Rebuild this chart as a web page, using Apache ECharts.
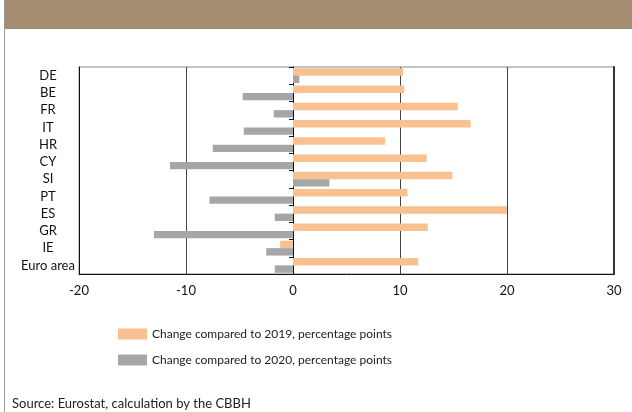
<!DOCTYPE html>
<html><head><meta charset="utf-8">
<script src="https://cdn.jsdelivr.net/npm/echarts@6/dist/echarts.min.js"></script>
<style>html,body{margin:0;padding:0;background:#fff}#c{width:632px;height:412px}</style>
</head><body><div id="c"></div>
<script>
const categories = ['DE','BE','FR','IT','HR','CY','SI','PT','ES','GR','IE','Euro area'];
const change2019 = [10.3, 10.4, 15.4, 16.6, 8.6, 12.5, 14.9, 10.7, 20.0, 12.6, -1.2, 11.7];
const change2020 = [0.6, -4.7, -1.8, -4.6, -7.5, -11.5, 3.4, -7.8, -1.7, -13.0, -2.5, -1.7];
const seriesNames = ['Change compared to 2019, percentage points','Change compared to 2020, percentage points'];
const xMin = -20, xMax = 30, xStep = 10;
const sourceText = 'Source: Eurostat, calculation by the CBBH';

const FONT = 'Lato';
const chart = echarts.init(document.getElementById('c'), null, {renderer:'canvas'});
chart.setOption({
  animation:false,
  textStyle:{fontFamily:FONT},
  graphic:[
    {type:'rect', shape:{x:4,y:0,width:628,height:29}, style:{fill:'#A48C70'}},
    {type:'line', shape:{x1:4.5,y1:0,x2:4.5,y2:412}, style:{stroke:'#9a9a9a',lineWidth:1}},
    {type:'text', left:12, top:397, style:{text:sourceText, font:'13px '+FONT, fill:'#222'}}
  ],
  legend:{
    orient:'vertical', left:113, top:323, itemWidth:29, itemHeight:11, itemGap:14,
    icon:'rect', textStyle:{fontFamily:FONT, fontSize:12, color:'#222'},
    data:seriesNames
  },
  grid:{left:79, right:18, top:67, bottom:138, show:true, borderColor:'#888', borderWidth:1},
  xAxis:{
    type:'value', min:xMin, max:xMax, interval:xStep,
    axisLine:{show:true, onZero:false, lineStyle:{color:'#111'}},
    axisTick:{show:false},
    axisLabel:{color:'#111', fontSize:13, margin:10},
    splitLine:{show:true, lineStyle:{color:'#444', width:1}}
  },
  yAxis:[
    {type:'category', data:categories, inverse:true,
     axisLine:{show:true, onZero:false, lineStyle:{color:'#111'}},
     axisTick:{show:false},
     axisLabel:{color:'#111', fontSize:13, margin:31, align:'center'}},
    {type:'category', data:categories, inverse:true, position:'left',
     axisLine:{show:true, onZero:true, lineStyle:{color:'#111'}},
     axisTick:{show:true, length:4, lineStyle:{color:'#111'}},
     axisLabel:{show:false}},
    {type:'category', data:categories, inverse:true, position:'right',
     axisLine:{show:true, onZero:false, lineStyle:{color:'#333', width:2}},
     axisTick:{show:false}, axisLabel:{show:false}}
  ],
  series:[
    {name:seriesNames[0], type:'bar', data:change2019, itemStyle:{color:'#F9C090'}, barGap:'0%', barCategoryGap:'14%'},
    {name:seriesNames[1], type:'bar', data:change2020, itemStyle:{color:'#A6A6A6'}, barGap:'0%', barCategoryGap:'14%'}
  ]
});
</script></body></html>
